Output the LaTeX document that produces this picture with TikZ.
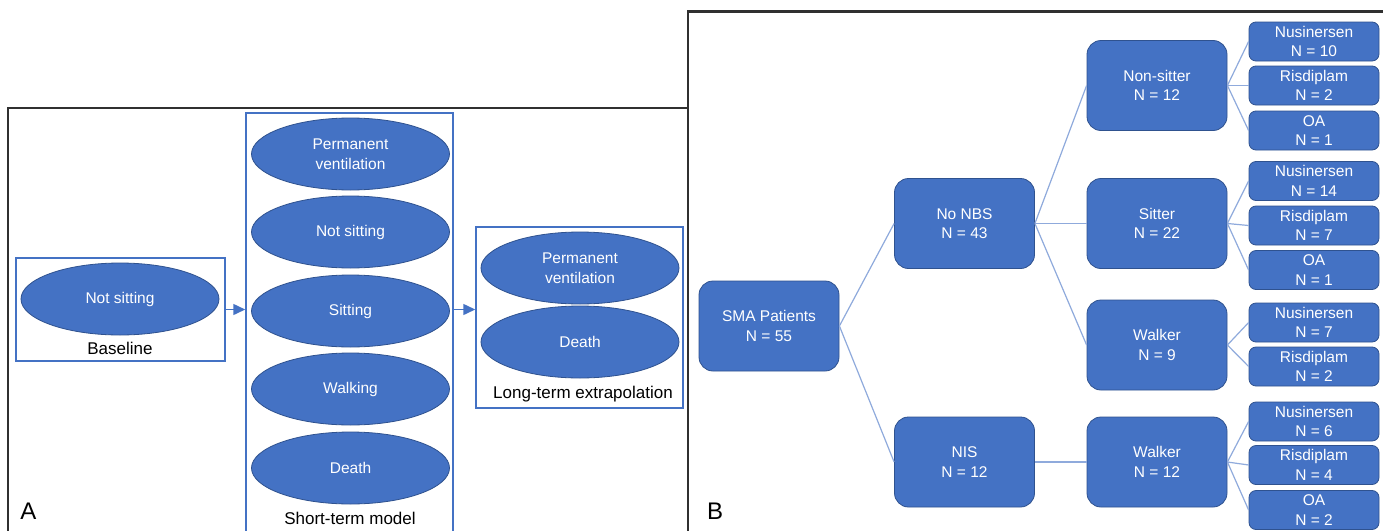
\documentclass[tikz,border=0pt]{standalone}
\usepackage{fontspec}
\setmainfont{Liberation Sans}
\usepackage{xcolor}
\usepackage{tikz}
\usetikzlibrary{arrows.meta, shapes.geometric}
\definecolor{smablue}{HTML}{4472C4}
\definecolor{smaedge}{HTML}{2F528F}
\definecolor{smaline}{HTML}{8FAADC}
\definecolor{smaframe}{HTML}{303030}

\begin{document}
\begin{tikzpicture}[x=1pt, y=-1pt,
    stateell/.style={ellipse, fill=smablue, draw=smaedge, line width=0.8pt,
      minimum width=198pt, minimum height=72pt, inner sep=0pt, text=white,
      align=center, font=\fontsize{15.5}{19.5}\selectfont},
    groupbox/.style={draw=smablue, line width=1.5pt, inner sep=0pt},
    flowarrow/.style={draw=smablue, line width=1.5pt, -{Triangle[length=12pt, width=11pt]}},
    plainlbl/.style={font=\fontsize{17}{20}\selectfont, inner sep=0pt},
    panellbl/.style={font=\fontsize{24}{28}\selectfont, inner sep=0pt},
    panelframe/.style={draw=smaframe, line width=2.2pt},
    midbox/.style={rectangle, rounded corners=14pt, fill=smablue, draw=smaedge,
      line width=0.8pt, minimum width=140pt, minimum height=90pt, text=white,
      align=center, font=\fontsize{15.5}{19.5}\selectfont},
    leafbox/.style={midbox, rounded corners=7pt, minimum width=130pt, minimum height=39pt,
      inner sep=0pt},
    branch/.style={draw=smaline, line width=1.2pt}]
  \clip (0,0) rectangle (1383,530);
  \fill[white] (0,0) rectangle (1383,530);

  % panel frames
  \draw[panelframe] (8,545) -- (8,108) -- (688,108);
  \draw[panelframe] (688,545) -- (688,11.5) -- (1395,11.5);
  \node[panellbl] (lblA) at (28.5,511.5) {A};
  \node[panellbl] (lblB) at (715,511.5) {B};

  % A: model structure
  \node[groupbox, minimum width=209pt, minimum height=103pt] (base) at (120.5,309.5) {};
  \node[groupbox, minimum width=207pt, minimum height=425pt] (short) at (349.5,325.5) {};
  \node[groupbox, minimum width=207pt, minimum height=181pt] (long) at (579.5,317.5) {};

  \node[stateell] (b1) at (120,299) {Not sitting};
  \node[plainlbl] (baselbl) at (120,348) {Baseline};

  \node[stateell] (s1) at (350.5,154) {Permanent\\ventilation};
  \node[stateell] (s2) at (350.5,232) {Not sitting};
  \node[stateell] (s3) at (350.5,311) {Sitting};
  \node[stateell] (s4) at (350.5,389) {Walking};
  \node[stateell] (s5) at (350.5,468) {Death};
  \node[plainlbl] (shortlbl) at (350,518) {Short-term model};

  \node[stateell] (l1) at (580,268) {Permanent\\ventilation};
  \node[stateell] (l2) at (580,342) {Death};
  \node[plainlbl] (longlbl) at (583,394) {Long-term extrapolation};

  \draw[flowarrow] (base.east) -- (base.east -| short.west);
  \draw[flowarrow] (base.east -| short.east) -- (base.east -| long.west);

  % B: patient tree
  \node[midbox] (sma) at (769,326) {SMA Patients\\N = 55};
  \node[midbox] (nonbs) at (964.5,223.5) {No NBS\\N = 43};
  \node[midbox] (nis) at (964.5,462) {NIS\\N = 12};
  \node[midbox] (nonsit) at (1157,85.5) {Non-sitter\\N = 12};
  \node[midbox] (sitter) at (1157,223.5) {Sitter\\N = 22};
  \node[midbox] (walk1) at (1157,345) {Walker\\N = 9};
  \node[midbox] (walk2) at (1157,462) {Walker\\N = 12};

  \foreach \nm/\drug/\n/\y in {nus1/Nusinersen/10/41.5, ris1/Risdiplam/2/85.5, oa1/OA/1/130.5,
      nus2/Nusinersen/14/181, ris2/Risdiplam/7/225.5, oa2/OA/1/270,
      nus3/Nusinersen/7/322.5, ris3/Risdiplam/2/366.5,
      nus4/Nusinersen/6/421.5, ris4/Risdiplam/4/465, oa4/OA/2/510}
    \node[leafbox] (\nm) at (1314,\y) {\drug\\N = \n};

  \foreach \p/\c in {sma/nonbs, sma/nis, nonbs/nonsit, nonbs/sitter, nonbs/walk1, nis/walk2,
      nonsit/nus1, nonsit/ris1, nonsit/oa1, sitter/nus2, sitter/ris2, sitter/oa2,
      walk1/nus3, walk1/ris3, walk2/nus4, walk2/ris4, walk2/oa4}
    \draw[branch] (\p.east) -- (\c.west);
\end{tikzpicture}
\end{document}
